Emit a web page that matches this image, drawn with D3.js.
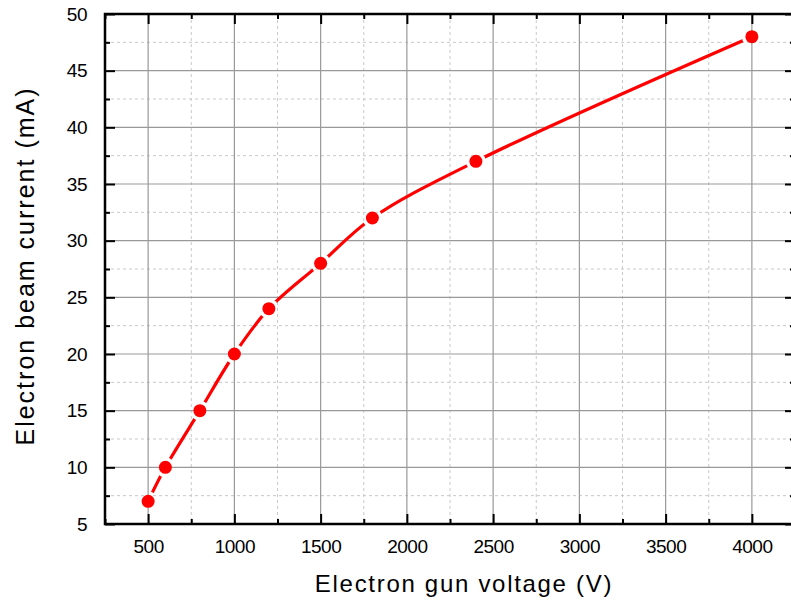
<!DOCTYPE html>
<html><head><meta charset="utf-8">
<script src="https://cdn.jsdelivr.net/npm/d3@7"></script>
<style>body{margin:0;background:#fff}svg{display:block}text{font-family:"Liberation Sans",Arial,sans-serif;fill:#000}</style>
</head><body><svg id="c" width="791" height="608"></svg>
<script>
const voltage = [500, 600, 800, 1000, 1200, 1500, 1800, 2400, 4000];
const current = [7, 10, 15, 20, 24, 28, 32, 37, 48];
const xTicks = [500, 1000, 1500, 2000, 2500, 3000, 3500, 4000];
const xMinor = [250, 750, 1250, 1750, 2250, 2750, 3250, 3750, 4250];
const yTicks = [5, 10, 15, 20, 25, 30, 35, 40, 45, 50];
const yMinor = [7.5, 12.5, 17.5, 22.5, 27.5, 32.5, 37.5, 42.5, 47.5];

const svg = d3.select("#c");
const L = 105, R = 795, T = 14, B = 524;
const x = d3.scaleLinear().domain([250, 4250]).range([L, R]);
const y = d3.scaleLinear().domain([5, 50]).range([B, T]);

const g = svg.append("g");
g.selectAll(".mgx").data(xMinor).join("line").attr("x1", d => x(d)).attr("x2", d => x(d)).attr("y1", T).attr("y2", B)
  .attr("stroke", "#c8c8c8").attr("stroke-width", 1).attr("stroke-dasharray", "3,3");
g.selectAll(".mgy").data(yMinor).join("line").attr("y1", d => y(d)).attr("y2", d => y(d)).attr("x1", L).attr("x2", R)
  .attr("stroke", "#c8c8c8").attr("stroke-width", 1).attr("stroke-dasharray", "3,3");
g.selectAll(".Mgx").data(xTicks).join("line").attr("x1", d => x(d)).attr("x2", d => x(d)).attr("y1", T).attr("y2", B)
  .attr("stroke", "#999").attr("stroke-width", 1.2);
g.selectAll(".Mgy").data(yTicks).join("line").attr("y1", d => y(d)).attr("y2", d => y(d)).attr("x1", L).attr("x2", R)
  .attr("stroke", "#999").attr("stroke-width", 1.2);

function styleAxis(sel){ sel.select(".domain").remove(); sel.selectAll("line").attr("stroke","#000").attr("stroke-width",2); sel.selectAll("text").attr("font-size","19px").attr("fill","#000").attr("letter-spacing","-0.5px"); }
svg.append("g").attr("transform", `translate(0,${B})`).call(d3.axisBottom(x).tickValues(xTicks).tickSize(-10).tickPadding(16).tickFormat(d3.format("d"))).call(styleAxis);
svg.append("g").attr("transform", `translate(0,${B})`).call(d3.axisBottom(x).tickValues(xMinor).tickSize(-5).tickFormat("")).call(styleAxis);
svg.append("g").attr("transform", `translate(0,${T})`).call(d3.axisTop(x).tickValues(xTicks).tickSize(-10).tickFormat("")).call(styleAxis);
svg.append("g").attr("transform", `translate(0,${T})`).call(d3.axisTop(x).tickValues(xMinor).tickSize(-5).tickFormat("")).call(styleAxis);
svg.append("g").attr("transform", `translate(${L},0)`).call(d3.axisLeft(y).tickValues(yTicks).tickSize(-10).tickPadding(18)).call(styleAxis);
svg.append("g").attr("transform", `translate(${L},0)`).call(d3.axisLeft(y).tickValues(yMinor).tickSize(-5).tickFormat("")).call(styleAxis);
svg.append("g").attr("transform", `translate(${R},0)`).call(d3.axisRight(y).tickValues(yTicks).tickSize(-10).tickFormat("")).call(styleAxis);
svg.append("g").attr("transform", `translate(${R},0)`).call(d3.axisRight(y).tickValues(yMinor).tickSize(-5).tickFormat("")).call(styleAxis);
svg.append("rect").attr("x", L).attr("y", T).attr("width", R - L).attr("height", B - T).attr("fill", "none").attr("stroke", "#000").attr("stroke-width", 2.5);

const pts = voltage.map((v, i) => [v, current[i]]);
const defs = svg.append("defs");
const mask = defs.append("mask").attr("id", "gap").attr("maskUnits", "userSpaceOnUse").attr("x", 0).attr("y", 0).attr("width", 791).attr("height", 608);
mask.append("rect").attr("width", 791).attr("height", 608).attr("fill", "#fff");
mask.selectAll("circle").data(pts).join("circle").attr("cx", d => x(d[0])).attr("cy", d => y(d[1])).attr("r", 10).attr("fill", "#000");
const line = d3.line().x(d => x(d[0])).y(d => y(d[1])).curve(d3.curveCatmullRom.alpha(0.5));
svg.append("path").datum(pts).attr("d", line).attr("fill", "none").attr("stroke", "#ff0000").attr("stroke-width", 3.2).attr("mask", "url(#gap)");
svg.selectAll(".pt").data(pts).join("circle").attr("cx", d => x(d[0])).attr("cy", d => y(d[1])).attr("r", 6.5).attr("fill", "#ff0000");

svg.append("text").attr("x", 464).attr("y", 592).attr("text-anchor", "middle").attr("font-size", "24px").attr("letter-spacing", "1.7px").text("Electron gun voltage (V)");
svg.append("text").attr("transform", "translate(34,266) rotate(-90)").attr("text-anchor", "middle").attr("font-size", "25px").attr("letter-spacing", "2px").text("Electron beam current (mA)");
</script></body></html>
